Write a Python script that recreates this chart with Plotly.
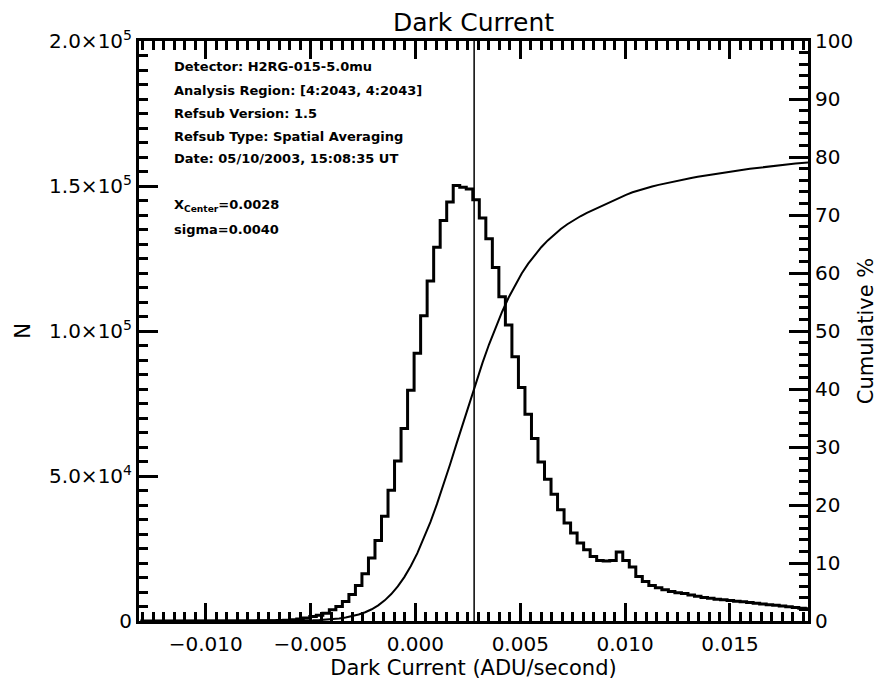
import numpy as np
import plotly.graph_objects as go

# ---------------- data ----------------
# histogram of dark current: bins start at hist_start, each bin_width wide
hist_start = -0.01312
bin_width = 0.0003109
counts = [
    1, 1, 1, 1, 1, 1, 1, 2, 2, 3,
    3, 4, 5, 7, 10, 14, 20, 30, 45, 70,
    110, 180, 290, 450, 700, 1040, 1550, 2000, 2700, 3870,
    5010, 6740, 9150, 12260, 16300, 21700, 27800, 36090, 45070, 55200,
    66390, 79600, 92290, 105300, 117260, 128900, 138100, 144450, 150200, 149600,
    149000, 145240, 139000, 131770, 121870, 111840, 102070, 91100, 80550, 71330,
    62930, 54850, 48870, 43690, 38400, 33780, 30330, 26870, 24590, 22280,
    20900, 20700, 20900, 23760, 20900, 18590, 15370, 13640, 12260, 11470,
    10780, 10190, 9700, 9450, 9000, 8500, 8100, 7850, 7530, 7290,
    7080, 6840, 6600, 6360, 6110, 5870, 5630, 5390, 5150, 4900,
    4660, 4420, 4210,
]
# analysis region [4:2043, 4:2043] -> 2040 x 2040 pixels
total_pixels = 2040 * 2040

x_center = 0.0028
sigma = 0.0040

x_range = [-0.01318, 0.01872]
x_tickvals = [-0.010, -0.005, 0.000, 0.005, 0.010, 0.015]
x_ticktext = ["\u22120.010", "\u22120.005", "0.000", "0.005", "0.010", "0.015"]

y_range = [0, 200000]
y_tickvals = [0, 50000, 100000, 150000, 200000]
y_ticktext = ["0", "5.0\u00d710<sup>4</sup>", "1.0\u00d710<sup>5</sup>",
              "1.5\u00d710<sup>5</sup>", "2.0\u00d710<sup>5</sup>"]

y2_range = [0, 100]
y2_tickvals = [0, 10, 20, 30, 40, 50, 60, 70, 80, 90, 100]
y2_ticktext = ["0", "10", "20", "30", "40", "50", "60", "70", "80", "90", "100"]

info_lines = [
    "Detector: H2RG-015-5.0mu",
    "Analysis Region: [4:2043, 4:2043]",
    "Refsub Version: 1.5",
    "Refsub Type: Spatial Averaging",
    "Date: 05/10/2003, 15:08:35 UT",
]
fit_lines = [
    "X<sub>Center</sub>=%.4f" % x_center,
    "sigma=%.4f" % sigma,
]

# ---------------- derived series ----------------
counts_arr = np.array(counts, dtype=float)
edges = hist_start + bin_width * np.arange(len(counts) + 1)
step_y = np.append(counts_arr, counts_arr[-1])
centers = edges[:-1] + bin_width / 2
cumulative = np.cumsum(counts_arr) / total_pixels * 100.0

# ---------------- figure ----------------
# the page body adds an 8px offset, so the figure is 8px smaller and shifted
OFF = 8
W, H = 882 - OFF, 683 - OFF
L, R, T, B = 139 - OFF, 74, 41 - OFF, 62
plot_w = W - L - R
plot_h = H - T - B

FONT = "DejaVu Sans"

fig = go.Figure()
fig.add_trace(go.Scatter(
    x=edges, y=step_y, mode="lines", line=dict(color="black", width=3, shape="hv"),
    yaxis="y", hoverinfo="skip"))
fig.add_trace(go.Scatter(
    x=centers, y=cumulative, mode="lines", line=dict(color="black", width=2),
    yaxis="y2", hoverinfo="skip"))

fig.add_shape(type="line", x0=x_center, x1=x_center, xref="x", y0=0, y1=1, yref="paper",
              line=dict(color="black", width=1.5))


def px_to_paper(px, py):
    # page pixel -> paper coordinates
    return (px - OFF - L) / plot_w, (H - B - (py - OFF)) / plot_h


ann_font = dict(family="DejaVu Sans", size=13, color="black", weight="bold")
ann = []
line_y = [67, 90, 113, 136, 159]
for txt, py in zip(info_lines, line_y):
    xp, yp = px_to_paper(172, py)
    ann.append(dict(text=txt, x=xp, y=yp, xref="paper", yref="paper", xanchor="left",
                    yanchor="middle", showarrow=False, font=ann_font))
for txt, py in zip(fit_lines, [205, 229]):
    xp, yp = px_to_paper(172, py)
    ann.append(dict(text=txt, x=xp, y=yp, xref="paper", yref="paper", xanchor="left",
                    yanchor="middle", showarrow=False, font=ann_font))

tickfont = dict(family=FONT, size=20, color="black")
titlefont = dict(family=FONT, size=21, color="black")

fig.update_layout(
    width=W, height=H,
    margin=dict(l=L, r=R, t=T, b=B, pad=0, autoexpand=False),
    paper_bgcolor="white", plot_bgcolor="white",
    showlegend=False,
    title=dict(text="Dark Current", x=(L + plot_w / 2) / W, xanchor="center",
               y=1 - (22 - OFF) / H, yanchor="middle", yref="container", automargin=False,
               font=dict(family=FONT, size=25, color="black")),
    annotations=ann,
    xaxis=dict(
        range=x_range, tickmode="array", tickvals=x_tickvals, ticktext=x_ticktext,
        ticks="inside", ticklen=18, tickwidth=2.5, tickcolor="black",
        showline=True, linewidth=3, linecolor="black", mirror="ticks",
        showgrid=False, zeroline=False, tickfont=tickfont, ticklabelstandoff=3,
        automargin=False,
        minor=dict(tick0=0, dtick=0.0005, ticks="inside", ticklen=9, tickwidth=2.5,
                   tickcolor="black", showgrid=False),
        title=dict(text="Dark Current (ADU/second)", font=titlefont, standoff=3),
    ),
    yaxis=dict(
        range=y_range, tickmode="array", tickvals=y_tickvals, ticktext=y_ticktext,
        ticks="inside", ticklen=19, tickwidth=3, tickcolor="black",
        showline=True, linewidth=3, linecolor="black",
        showgrid=False, zeroline=False, tickfont=tickfont, ticklabelstandoff=0,
        automargin=False,
        minor=dict(tick0=0, dtick=5000, ticks="inside", ticklen=9, tickwidth=2.5,
                   tickcolor="black", showgrid=False),
        title=dict(text="N", font=titlefont, standoff=13),
    ),
    yaxis2=dict(
        range=y2_range, overlaying="y", side="right", tickmode="array",
        tickvals=y2_tickvals, ticktext=y2_ticktext,
        ticks="inside", ticklen=19, tickwidth=3, tickcolor="black",
        showline=True, linewidth=3, linecolor="black",
        showgrid=False, zeroline=False, tickfont=tickfont, ticklabelstandoff=0,
        automargin=False,
        minor=dict(tick0=0, dtick=2, ticks="inside", ticklen=9, tickwidth=2.5,
                   tickcolor="black", showgrid=False),
        title=dict(text="Cumulative %", font=titlefont, standoff=7),
    ),
)

fig.write_html("out.html")
